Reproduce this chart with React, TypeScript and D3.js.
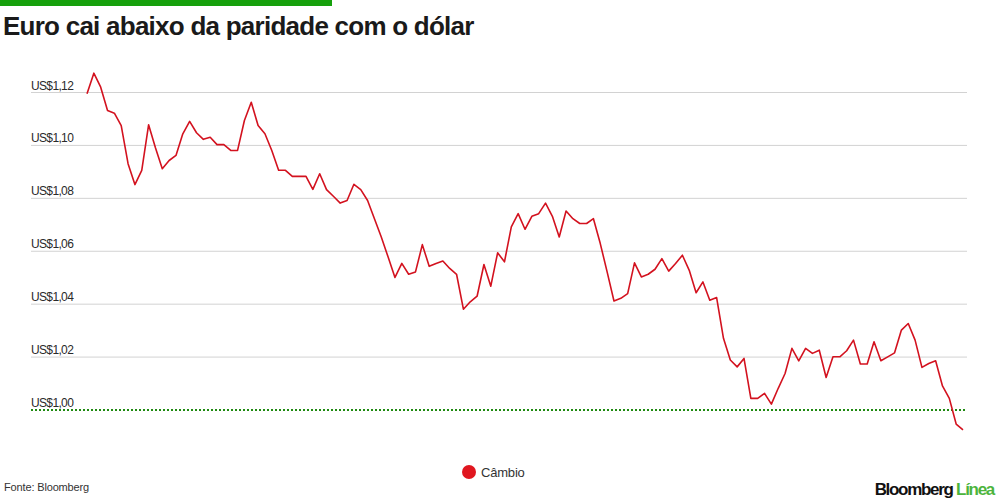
import { useEffect, useRef } from "react";
import * as d3 from "d3";

// EUR/USD daily close
const cambio: number[] = [
    1.1195, 1.1273, 1.122, 1.1132, 1.1122, 1.1075, 1.0931, 1.0852, 1.0906, 1.1078,
    1.0991, 1.0912, 1.0943, 1.0962, 1.1044, 1.1091, 1.1048, 1.1023, 1.1031, 1.1003,
    1.1003, 1.0981, 1.0981, 1.1094, 1.1163, 1.1075, 1.1044, 1.0981, 1.0906, 1.0906,
    1.0883, 1.0883, 1.0883, 1.0834, 1.0893, 1.0833, 1.0808, 1.0782, 1.0792, 1.0853,
    1.0833, 1.0792, 1.0723, 1.0654, 1.0578, 1.0501, 1.0554, 1.0513, 1.0522, 1.0625,
    1.0543, 1.0554, 1.0563, 1.0535, 1.0513, 1.0381, 1.0409, 1.043, 1.055, 1.0468,
    1.0594, 1.056, 1.0692, 1.0742, 1.0683, 1.0732, 1.0742, 1.0782, 1.0732, 1.0654,
    1.0752, 1.0723, 1.0705, 1.0705, 1.0723, 1.0629, 1.0522, 1.0412, 1.0422, 1.044,
    1.0556, 1.0503, 1.0513, 1.0532, 1.0572, 1.0525, 1.0554, 1.0585, 1.0528, 1.0443,
    1.0484, 1.0415, 1.0425, 1.0271, 1.0189, 1.0163, 1.0195, 1.0044, 1.0044, 1.0063,
    1.0022, 1.0082, 1.0138, 1.0233, 1.0186, 1.0233, 1.0214, 1.0226, 1.0123, 1.0201,
    1.0201, 1.0224, 1.0264, 1.0174, 1.0174, 1.0258, 1.0186, 1.0201, 1.0216, 1.0302,
    1.0327, 1.0264, 1.0161, 1.0176, 1.0186, 1.0091, 1.0044, 0.9947, 0.9925,
];

const yTicks: number[] = [1.0, 1.02, 1.04, 1.06, 1.08, 1.1, 1.12];
const yTickLabels: string[] = [
    "US$1,00", "US$1,02", "US$1,04", "US$1,06", "US$1,08", "US$1,10", "US$1,12",
];

const title = "Euro cai abaixo da paridade com o dólar";
const seriesName = "Câmbio";
const source = "Fonte: Bloomberg";

const font = "'Liberation Sans', Arial, sans-serif";

export default function App() {
    const svgRef = useRef<SVGSVGElement>(null);

    useEffect(() => {
        if (!svgRef.current) return;
        const svg = d3.select(svgRef.current);
        svg.selectAll("*").remove();

        const gridLeft = 31;
        const gridRight = 967;

        const x = d3
            .scaleLinear()
            .domain([0, cambio.length - 1])
            .range([87, 963]);
        const y = d3.scaleLinear().domain([1.0, 1.12]).range([410, 92.5]);

        // top green strip + title
        svg.append("rect")
            .attr("x", 0)
            .attr("y", 0)
            .attr("width", 332)
            .attr("height", 6)
            .attr("fill", "#16a00c");

        svg.append("text")
            .attr("x", 3)
            .attr("y", 35)
            .attr("font-family", font)
            .attr("font-weight", "bold")
            .attr("font-size", 26)
            .attr("letter-spacing", -0.75)
            .attr("fill", "#1a1a1a")
            .text(title);

        // gridlines + labels
        yTicks.forEach((t, i) => {
            if (t !== 1.0) {
                svg.append("line")
                    .attr("x1", gridLeft)
                    .attr("x2", gridRight)
                    .attr("y1", y(t))
                    .attr("y2", y(t))
                    .attr("stroke", "#d2d2d2")
                    .attr("stroke-width", 1);
            }
            svg.append("text")
                .attr("x", gridLeft)
                .attr("y", y(t) - 3)
                .attr("font-family", font)
                .attr("font-size", 12)
                .attr("letter-spacing", -0.65)
                .attr("fill", "#2a2a2a")
                .text(yTickLabels[i]);
        });

        // parity line, dotted green
        svg.append("line")
            .attr("x1", gridLeft)
            .attr("x2", gridRight)
            .attr("y1", y(1.0))
            .attr("y2", y(1.0))
            .attr("stroke", "#1f8a12")
            .attr("stroke-width", 2)
            .attr("stroke-dasharray", "2,2");

        const line = d3
            .line<number>()
            .x((_, i) => x(i))
            .y((d) => y(d));

        svg.append("path")
            .datum(cambio)
            .attr("d", line)
            .attr("fill", "none")
            .attr("stroke", "#d3121f")
            .attr("stroke-width", 1.6)
            .attr("stroke-linejoin", "round");

        // legend
        svg.append("circle")
            .attr("cx", 469)
            .attr("cy", 472)
            .attr("r", 7)
            .attr("fill", "#e0161f");
        svg.append("text")
            .attr("x", 481)
            .attr("y", 476.5)
            .attr("font-family", font)
            .attr("font-size", 13)
            .attr("letter-spacing", -0.2)
            .attr("fill", "#333")
            .text(seriesName);

        // footer
        svg.append("text")
            .attr("x", 4)
            .attr("y", 491)
            .attr("font-family", font)
            .attr("font-size", 11)
            .attr("letter-spacing", -0.15)
            .attr("fill", "#333")
            .text(source);

        const brand = svg
            .append("text")
            .attr("x", 994)
            .attr("y", 495)
            .attr("text-anchor", "end")
            .attr("font-family", font)
            .attr("font-weight", "bold")
            .attr("font-size", 17)
            .attr("letter-spacing", -1.3);
        brand.append("tspan").attr("fill", "#111").text("Bloomberg ");
        brand.append("tspan").attr("fill", "#4cb43c").text("Línea");
    }, []);

    return (
        <div style={{ position: "absolute", left: 0, top: 0, background: "#fff" }}>
            <svg ref={svgRef} width={1000} height={500} style={{ display: "block" }}></svg>
        </div>
    );
}
